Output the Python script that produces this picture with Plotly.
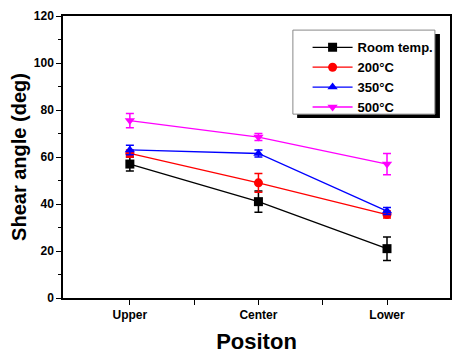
import plotly.graph_objects as go

positions = ["Upper", "Center", "Lower"]
series_names = ["Room temp.", "200°C", "350°C", "500°C"]
room_vals = [57, 41, 21]
room_err = [3, 4.5, 5]
t200_vals = [61.5, 49, 35.5]
t200_err = [1.5, 4, 1.5]
t350_vals = [63, 61.5, 37]
t350_err = [2, 1.5, 1.5]
t500_vals = [75.5, 68.5, 57]
t500_err = [3, 1.5, 4.5]

colors = ["black", "#FF0000", "#0000FF", "#FF00FF"]
symbols = ["square", "circle", "triangle-up", "triangle-down"]
values = [room_vals, t200_vals, t350_vals, t500_vals]
errors = [room_err, t200_err, t350_err, t500_err]

xs = list(range(len(positions)))
font = "Liberation Sans, Arial, sans-serif"

fig = go.Figure()
for name, v, e, c, s in zip(series_names, values, errors, colors, symbols):
    fig.add_trace(go.Scatter(
        x=xs, y=v, name=name, mode="lines+markers",
        line=dict(color=c, width=1.3),
        marker=dict(symbol=s, size=9, color=c),
        error_y=dict(type="data", array=e, visible=True, color=c, thickness=1.5, width=4),
    ))

# legend box with drop shadow
fig.add_shape(type="rect", xref="paper", yref="paper",
              x0=0.605, x1=0.974, y0=0.638, y1=0.936,
              fillcolor="black", line=dict(width=0), layer="above")
fig.add_shape(type="rect", xref="paper", yref="paper",
              x0=0.594, x1=0.961, y0=0.652, y1=0.950,
              fillcolor="white", line=dict(color="#888888", width=1), layer="above")

fig.update_layout(
    width=462, height=352,
    margin=dict(l=55, r=20, t=8, b=62, autoexpand=False),
    paper_bgcolor="white", plot_bgcolor="white",
    font=dict(family=font, color="black"),
    showlegend=True,
    legend=dict(x=0.632, y=0.942, xanchor="left", yanchor="top",
                bgcolor="rgba(0,0,0,0)", borderwidth=0,
                font=dict(size=13, family=font, color="black", weight="bold"),
                tracegroupgap=0, itemwidth=40),
)
fig.update_xaxes(
    range=[-0.52, 2.49], tickvals=xs, ticktext=positions,
    ticks="outside", ticklen=5, tickwidth=1, tickcolor="black",
    tickfont=dict(size=12, family=font, color="black", weight="bold"),
    minor=dict(tickvals=[0.5, 1.5], ticks="outside", ticklen=5, tickcolor="black"),
    showline=True, linecolor="black", linewidth=1.5, mirror=True,
    showgrid=False, zeroline=False, automargin=False,
    title=dict(text="Positon", font=dict(size=22, family=font, color="black", weight="bold"), standoff=12),
)
fig.update_yaxes(
    range=[0, 120], dtick=20,
    ticks="outside", ticklen=5, tickwidth=1, tickcolor="black",
    tickfont=dict(size=12, family=font, color="black", weight="bold"),
    minor=dict(dtick=10, ticks="outside", ticklen=3, tickcolor="black"),
    showline=True, linecolor="black", linewidth=1.5, mirror=True,
    showgrid=False, zeroline=False, automargin=False,
    title=dict(text="Shear angle (deg)", font=dict(size=20, family=font, color="black", weight="bold"), standoff=6),
)
fig.write_html("out.html")
